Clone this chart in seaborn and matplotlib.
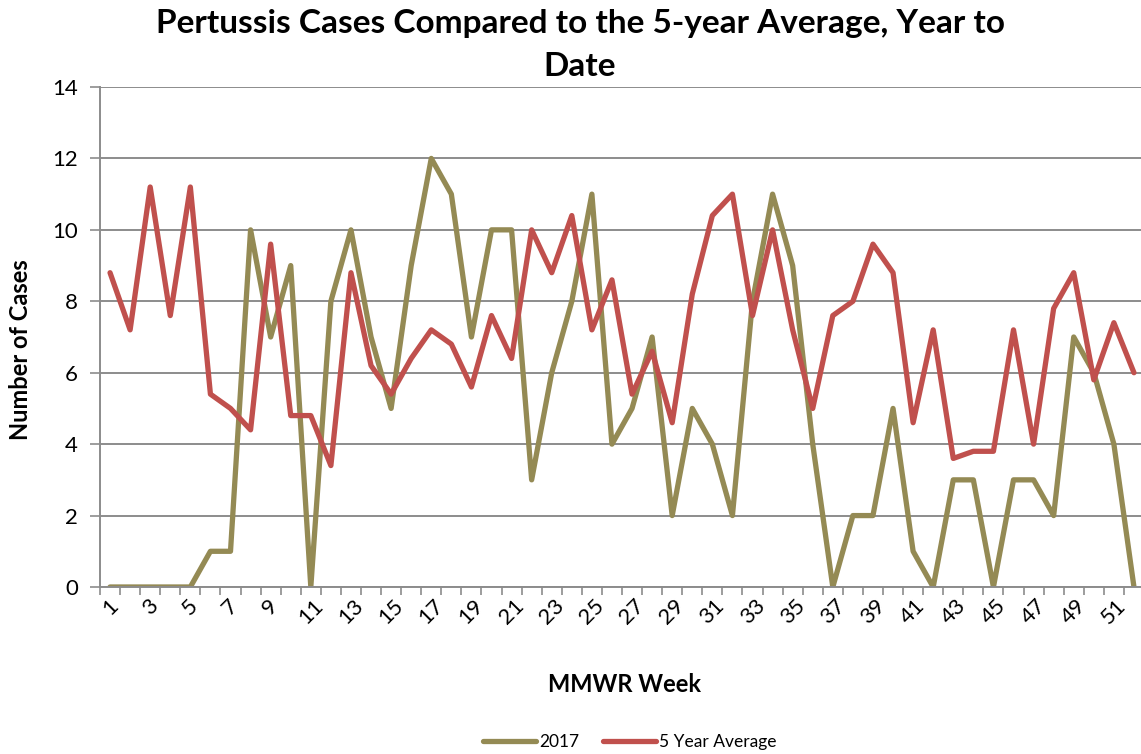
import matplotlib
matplotlib.use("Agg")
import matplotlib.pyplot as plt
from matplotlib.lines import Line2D
from matplotlib.ticker import FixedLocator
import pandas as pd
import seaborn as sns

# Weekly pertussis counts (MMWR weeks 1-52)
weeks = list(range(1, 53))
cases_2017 = [0, 0, 0, 0, 0, 1, 1, 10, 7, 9,
              0, 8, 10, 7, 5, 9, 12, 11, 7, 10,
              10, 3, 6, 8, 11, 4, 5, 7, 2, 5,
              4, 2, 8, 11, 9, 4, 0, 2, 2, 5,
              1, 0, 3, 3, 0, 3, 3, 2, 7, 6,
              4, 0]
five_year_avg = [8.8, 7.2, 11.2, 7.6, 11.2, 5.4, 5.0, 4.4, 9.6, 4.8,
                 4.8, 3.4, 8.8, 6.2, 5.4, 6.4, 7.2, 6.8, 5.6, 7.6,
                 6.4, 10.0, 8.8, 10.4, 7.2, 8.6, 5.4, 6.6, 4.6, 8.2,
                 10.4, 11.0, 7.6, 10.0, 7.2, 5.0, 7.6, 8.0, 9.6, 8.8,
                 4.6, 7.2, 3.6, 3.8, 3.8, 7.2, 4.0, 7.8, 8.8, 5.8,
                 7.4, 6.0]
series_names = ["2017", "5 Year Average"]
series_colors = ["#948A54", "#C0504D"]
y_ticks = [0, 2, 4, 6, 8, 10, 12, 14]
x_tick_weeks = weeks[::2]

df = pd.DataFrame({
    "week": weeks * 2,
    "cases": cases_2017 + five_year_avg,
    "series": [series_names[0]] * len(weeks) + [series_names[1]] * len(weeks),
})

sns.set_theme(style="white")
plt.rcParams["font.family"] = ["Lato", "DejaVu Sans"]
plt.rcParams["text.color"] = "black"

W, H = 1141, 754
fig = plt.figure(figsize=(W / 100, H / 100), dpi=100)
ax = fig.add_axes([100 / W, (H - 587) / H, 1044 / W, 500 / H])

sns.lineplot(data=df, x="week", y="cases", hue="series",
             palette=series_colors, hue_order=series_names,
             linewidth=3.8, ax=ax, legend=False)
for line in ax.lines:
    line.set_solid_joinstyle("round")
    line.set_solid_capstyle("round")

grid_color = "#8c8c8c"
ax.set_xlim(0.5, 52.5)
ax.set_ylim(0, 14)
ax.set_axisbelow(True)
ax.yaxis.set_major_locator(FixedLocator(y_ticks))
ax.grid(axis="y", color=grid_color, linewidth=1.4)
ax.grid(axis="x", visible=False)

ax.set_xticks(x_tick_weeks)
ax.set_xticklabels([str(w) for w in x_tick_weeks], rotation=45,
                   ha="center", va="top", fontsize=16)
ax.xaxis.set_minor_locator(FixedLocator([w + 0.5 for w in range(0, 53)]))
ax.tick_params(axis="x", which="major", length=0, pad=6,
               labelcolor="black")
ax.tick_params(axis="x", which="minor", length=6, width=1.2,
               color=grid_color, direction="out", bottom=True)
ax.tick_params(axis="y", which="major", length=7, width=1.2,
               color=grid_color, direction="out", left=True,
               labelsize=16, pad=9, labelcolor="black")

for side in ["top", "right"]:
    ax.spines[side].set_visible(False)
for side in ["left", "bottom"]:
    ax.spines[side].set_color(grid_color)
    ax.spines[side].set_linewidth(1.4)

ax.set_xlabel("")
ax.set_ylabel("")

fig.text(580 / W, 1 - 24 / H,
         "Pertussis Cases Compared to the 5-year Average, Year to",
         ha="center", va="center", fontsize=24, fontweight="bold")
fig.text(580 / W, 1 - 66 / H, "Date",
         ha="center", va="center", fontsize=24, fontweight="bold")
fig.text(21 / W, 1 - 350 / H, "Number of Cases", rotation=90,
         ha="center", va="center", fontsize=17, fontweight="bold")
fig.text(625 / W, 1 - 685 / H, "MMWR Week",
         ha="center", va="center", fontsize=17, fontweight="bold")

handles = [Line2D([0], [0], color=c, linewidth=3.8, solid_capstyle="round")
           for c in series_colors]
fig.legend(handles, series_names, loc="center",
           bbox_to_anchor=(630 / W, 1 - 742 / H), ncol=2, frameon=False,
           fontsize=12.5, handlelength=3.0, handletextpad=0.2,
           columnspacing=1.4)

fig.savefig("out.png", dpi=100)
